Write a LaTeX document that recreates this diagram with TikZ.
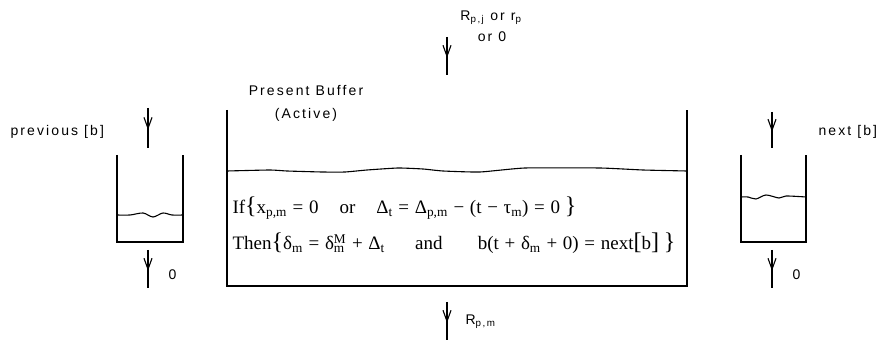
\documentclass[tikz,border=0pt]{standalone}
\usepackage{fontspec}
\setmainfont{Liberation Serif}
\newfontfamily\labelfont[LetterSpace=15]{Liberation Sans}
\usepackage{tikz}
\usetikzlibrary{arrows.meta,positioning,decorations.markings}
\newcommand{\sbs}[1]{\textsubscript{#1}}
\newcommand{\bigL}[1]{{\fontsize{24}{24}\selectfont #1}}
\newcommand{\gap}[1][1.1em]{\hspace{#1}}
\newcommand{\op}[1]{\hspace{0.3em}#1\hspace{0.3em}}

\begin{document}
\begin{tikzpicture}[x=1pt, y=-1pt, line width=1.1pt,
    flow/.style={postaction={decorate}, decoration={markings,
        mark=at position 0.55 with {\arrow{Straight Barb[length=11pt,width=8pt]}}}},
    lbl/.style={font=\labelfont\fontsize{14}{16}\selectfont, inner sep=0pt},
    eq/.style={font=\fontsize{19}{21}\selectfont, inner sep=0pt, anchor=base west}]
    \useasboundingbox (0,0) rectangle (880,344);

    % present buffer
    \draw (227,110) -- (227,286) -- (687,286) -- (687,110);
    \draw plot[smooth, tension=0.3] coordinates {(227,171) (270,170) (287,171) (322,172) (345,172)
      (367,170) (398,168) (423,169) (443,171) (480,172) (525,168) (600,168) (643,170) (687,171)};
    \node[lbl] (bufLbl) at (306,91) {Present Buffer};
    \node[lbl] (actLbl) at (306,115) {(Active)};

    % previous and next buffers
    \draw (117,155) -- (117,242) -- (183,242) -- (183,155);
    \draw plot[smooth, tension=0.5] coordinates {(117,215) (130,215) (143,213) (153,217)
      (163,213) (172,215) (183,215)};
    \draw (741,155) -- (741,242) -- (806,242) -- (806,155);
    \draw plot[smooth, tension=0.5] coordinates {(741,197) (748,197) (756,199) (766,195)
      (779,198) (786,196) (806,197)};
    \node[lbl, anchor=west] (prevLbl) at (10,132) {previous [b]};
    \node[lbl, anchor=west] (nextLbl) at (818,132) {next [b]};

    % flows
    \coordinate (inTop) at (447,37);   \coordinate (inBot) at (447,75);
    \coordinate (outTop) at (447,302); \coordinate (outBot) at (447,340);
    \coordinate (prevTop) at (148,108); \coordinate (prevBot) at (148,148);
    \coordinate (prevOut) at (148,250); \coordinate (prevEnd) at (148,288);
    \coordinate (nextTop) at (772,112); \coordinate (nextBot) at (772,148);
    \coordinate (nextOut) at (772,250); \coordinate (nextEnd) at (772,288);
    \foreach \a/\b in {inTop/inBot, outTop/outBot, prevTop/prevBot, prevOut/prevEnd,
        nextTop/nextBot, nextOut/nextEnd}
      \draw[flow] (\a) -- (\b);

    \node[lbl] (inLbl) at (491,18) {R\sbs{p,j} or r\sbs{p}};
    \node[lbl] (inLbl2) at (492,37) {or 0};
    \node[lbl, anchor=west] (outLbl) at (465,322) {R\sbs{p,m}};
    \node[lbl, right=20pt of prevEnd, yshift=13pt] (zeroL) {0};
    \node[lbl, right=20pt of nextEnd, yshift=13pt] (zeroR) {0};

    % switching rule
    \node[eq] (ifLine) at (232,214) {If\bigL{\{}x\sbs{p,m}\op{=}0\gap or\gap
      Δ\sbs{t}\op{=}Δ\sbs{p,m}\op{−}(t\op{−}τ\sbs{m})\op{=}0 \bigL{\}}};
    \node[eq] (thenLine) at (232,250) {Then\bigL{\{}δ\sbs{m}\op{=}δ\rlap{\sbs{m}}\textsuperscript{M}\op{+}Δ\sbs{t}\gap[1.6em]and\gap[1.6em]
      b(t\op{+}δ\sbs{m}\op{+}0)\op{=}next\bigL{[}b\bigL{]} \bigL{\}}};
  \end{tikzpicture}
\end{document}
